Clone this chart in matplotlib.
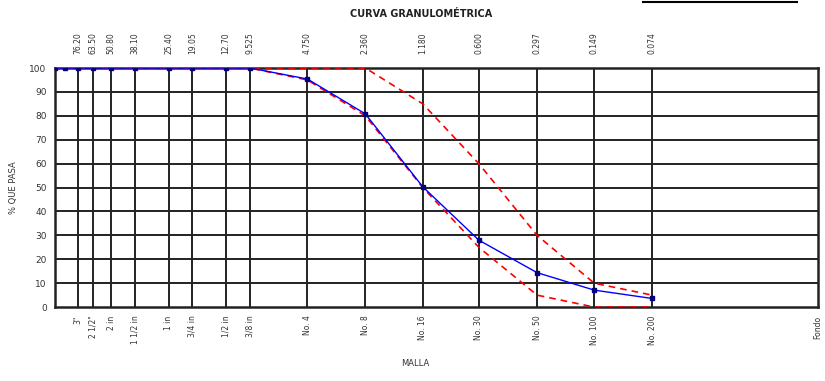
import numpy as np
import matplotlib
matplotlib.use('Agg')
import matplotlib.pyplot as plt
from matplotlib.lines import Line2D

# tamices (mm) y etiquetas
abertura = [76.2, 63.5, 50.8, 38.1, 25.4, 19.05, 12.7, 9.525, 4.75, 2.36, 1.18, 0.6, 0.297, 0.149, 0.074, 0.01]
malla = ['3"', '2 1/2"', '2 in', '1 1/2 in', '1 in', '3/4 in', '1/2 in', '3/8 in',
         'No. 4', 'No. 8', 'No. 16', 'No. 30', 'No. 50', 'No. 100', 'No. 200', 'Fondo']
etiq_mm = ['76.20', '63.50', '50.80', '38.10', '25.40', '19.05', '12.70', '9.525',
           '4.750', '2.360', '1.180', '0.600', '0.297', '0.149', '0.074']

# curva del ensayo
d_ensayo = [100, 88.9, 76.2, 63.5, 50.8, 38.1, 25.4, 19.05, 12.7, 9.525, 4.75, 2.36, 1.18, 0.6, 0.297, 0.149, 0.074]
p_ensayo = [100, 100, 100, 100, 100, 100, 100, 100, 100, 100, 95.4, 80.8, 50.3, 28, 14.4, 7.1, 3.6]

# limites del huso
d_lim = [100, 9.525, 4.75, 2.36, 1.18, 0.6, 0.297, 0.149, 0.074]
lim_sup = [100, 100, 100, 100, 85, 60, 30, 10, 5]
lim_inf = [100, 100, 95, 80, 50, 25, 5, 0, 0]

fig = plt.figure(figsize=(8.25, 3.81), dpi=100)
ax = fig.add_axes([0.0667, 0.194, 0.9248, 0.6275])

ax.set_xscale('log')
ax.set_xlim(100, 0.01)
ax.set_ylim(0, 100)

# cuadricula
for y in range(10, 100, 10):
    ax.axhline(y, color='#222222', lw=1.4, zorder=1)
for d in abertura[:-1]:
    ax.axvline(d, color='#222222', lw=1.4, zorder=1)

ax.plot(d_lim, lim_sup, color='red', lw=1.2, ls=(0, (4, 3)), zorder=3)
ax.plot(d_lim, lim_inf, color='red', lw=1.2, ls=(0, (4, 3)), zorder=3)
ax.plot(d_ensayo, p_ensayo, color='blue', lw=1.0, marker='s', ms=2.5,
        mfc='#000080', mec='#000080', zorder=4)

ax.set_yticks(range(0, 101, 10))
ax.tick_params(axis='y', labelsize=6.5, length=0, pad=6, labelcolor='#333333')
ax.set_xticks(abertura)
ax.set_xticklabels(malla, rotation=90, fontsize=5.5, color='#333333', va='top')
ax.tick_params(axis='x', length=0, pad=6)
ax.xaxis.set_minor_locator(matplotlib.ticker.NullLocator())

top = ax.secondary_xaxis('top')
top.set_xticks(abertura[:-1])
top.set_xticklabels(etiq_mm, rotation=90, fontsize=5.5, color='#333333')
top.tick_params(axis='x', length=0, pad=10)
top.xaxis.set_minor_locator(matplotlib.ticker.NullLocator())
top.spines['top'].set_visible(False)

for s in ax.spines.values():
    s.set_linewidth(1.8)
    s.set_color('#222222')

ax.set_ylabel('% QUE PASA', fontsize=6, color='#333333', labelpad=8)
fig.text(0.503, 0.04, 'MALLA', fontsize=6, color='#333333', ha='center')
fig.text(0.51, 0.955, 'CURVA GRANULOMÉTRICA', fontsize=7, fontweight='bold',
         color='#222222', ha='center')

fig.add_artist(Line2D([643/825, 797/825], [0.995, 0.995], color='black', lw=1.5))

fig.savefig('out.png', dpi=100)
